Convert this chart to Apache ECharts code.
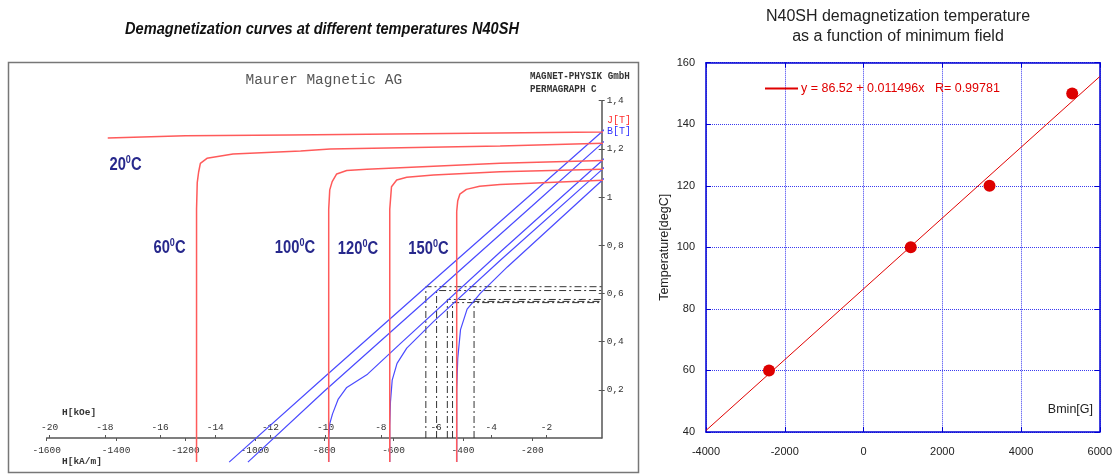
<!DOCTYPE html>
<html>
<head>
<meta charset="utf-8">
<title>N40SH demagnetization</title>
<script src="https://cdn.jsdelivr.net/npm/echarts@6.0.0/dist/echarts.min.js"></script>
<style>
  html, body { margin: 0; padding: 0; background: #fff; }
  #main { width: 1115px; height: 474px; }
</style>
</head>
<body>
<div id="main"></div>
<script>
// ---- left: demagnetization curves (H in kA/m, J and B in T) ----
var tempNames = ['20', '60', '100', '120', '150'];

var j20 = [[-1424, 1.245], [-1200, 1.255], [-900, 1.258], [-600, 1.262], [-300, 1.266], [0, 1.270], [25, 1.272]];
var j60 = [[-1168, -0.1], [-1168, 0.95], [-1166, 1.06], [-1162, 1.104], [-1157, 1.140], [-1138, 1.161], [-1063, 1.179], [-868, 1.191], [-783, 1.200], [-293, 1.212], [47, 1.225]];
var j100 = [[-787, -0.1], [-787, 0.95], [-784, 1.03], [-777, 1.064], [-764, 1.096], [-735, 1.110], [-677, 1.115], [-581, 1.122], [-293, 1.140], [47, 1.154]];
var j120 = [[-611, -0.1], [-611, 0.95], [-606, 1.043], [-591, 1.071], [-562, 1.082], [-485, 1.092], [-293, 1.105], [47, 1.117]];
var j150 = [[-418, -0.1], [-418, 0.94], [-415, 0.985], [-409, 1.012], [-390, 1.032], [-352, 1.045], [-293, 1.052], [47, 1.072]];

var b20 = [[-1074, -0.1], [-800, 0.252], [-500, 0.635], [-200, 1.016], [0, 1.270], [45, 1.330]];
var b60 = [[-1020, -0.1], [-800, 0.194], [-500, 0.579], [-200, 0.964], [0, 1.222], [45, 1.281]];
var b100 = [[-787, -0.1], [-787, 0.0], [-784, 0.06], [-776, 0.1], [-760, 0.16], [-735, 0.21], [-675, 0.265], [-579, 0.394], [-291, 0.774], [0, 1.150], [47, 1.213]];
var b120 = [[-611, -0.1], [-611, 0.05], [-609, 0.15], [-604, 0.24], [-590, 0.31], [-562, 0.373], [-485, 0.483], [-293, 0.737], [0, 1.113], [47, 1.177]];
var b150 = [[-418, -0.1], [-418, 0.2], [-415, 0.33], [-407, 0.45], [-388, 0.535], [-350, 0.6], [-272, 0.71], [0, 1.068], [47, 1.131]];

// working points marked with dash-dot lines
var bminH = [-507, -476, -445, -430, -368];
var bminB = [0.628, 0.612, 0.575, 0.562, 0.567];

var hTicks = [-1600, -1400, -1200, -1000, -800, -600, -400, -200];
var kOeTicks = [-20, -18, -16, -14, -12, -10, -8, -6, -4, -2];
var bTicks = [0.2, 0.4, 0.6, 0.8, 1, 1.2, 1.4];
var KA_PER_KOE = 79.5775;

// ---- right: demagnetization temperature vs minimum field ----
var bminG = [-2400, 1200, 3200, 5300];
var tempC = [60, 100, 120, 150];
var fitX = [-4000, 6000];
var fitY = [40.5, 155.5];
var fitName = 'y = 86.52 + 0.011496x   R= 0.99781';

var MONO = '"Liberation Mono", "DejaVu Sans Mono", monospace';
var SANS = '"Liberation Sans", Arial, sans-serif';
var RED = '#ff5a5a', BLUE = '#4a4aff';
var GB = '#0000d4';

var jCurves = [j20, j60, j100, j120, j150];
var bCurves = [b20, b60, b100, b120, b150];

function plain(v) { return String(v); }

var series = [];
bCurves.forEach(function (d, i) {
  series.push({
    name: 'B ' + tempNames[i], type: 'line', data: d, xAxisIndex: 0, yAxisIndex: 0,
    symbol: 'none', clip: false, z: 3,
    lineStyle: { color: BLUE, width: 1.2 }
  });
});
jCurves.forEach(function (d, i) {
  series.push({
    name: 'J ' + tempNames[i], type: 'line', data: d, xAxisIndex: 0, yAxisIndex: 0,
    symbol: 'none', clip: false, z: 4,
    lineStyle: { color: RED, width: 1.5 }
  });
});
bminH.forEach(function (h, i) {
  series.push({
    name: 'Bmin ' + tempNames[i], type: 'line', xAxisIndex: 0, yAxisIndex: 0,
    data: [[h, 0], [h, bminB[i]], [0, bminB[i]]],
    symbol: 'none', clip: false, z: 2,
    lineStyle: { color: '#333', width: 1, type: [7, 3, 2, 3] }
  });
});
series.push({
  name: 'points', type: 'scatter', xAxisIndex: 2, yAxisIndex: 2,
  data: bminG.map(function (g, i) { return [g, tempC[i]]; }),
  symbolSize: 12, itemStyle: { color: '#dd0000', opacity: 1 }, z: 5
});
series.push({
  name: fitName, type: 'line', xAxisIndex: 2, yAxisIndex: 2,
  data: fitX.map(function (x, i) { return [x, fitY[i]]; }),
  symbol: 'none', itemStyle: { color: '#e00000' },
  lineStyle: { color: '#e00000', width: 1 }, z: 4
});

function tempLabel(t, cx, cy) {
  return {
    type: 'group', x: cx, y: cy, scaleX: 0.82,
    children: [{
      type: 'text',
      style: {
        text: '{a|' + t + '}{s|0}{a|C}',
        textAlign: 'center', textVerticalAlign: 'middle',
        rich: {
          a: { fontSize: 18, fontWeight: 'bold', fontFamily: SANS, fill: '#27288c', lineHeight: 20, verticalAlign: 'bottom' },
          s: { fontSize: 11, fontWeight: 'bold', fontFamily: SANS, fill: '#27288c', lineHeight: 20, verticalAlign: 'top' }
        }
      }
    }]
  };
}

function monoText(txt, x, y, size, color, weight, sx) {
  return {
    type: 'group', x: x, y: y, scaleX: sx || 1,
    children: [{
      type: 'text',
      style: {
        text: txt, fontFamily: MONO, fontSize: size, fontWeight: weight || 'normal',
        fill: color, textAlign: 'left', textVerticalAlign: 'middle'
      }
    }]
  };
}

var chart = echarts.init(document.getElementById('main'), null, { renderer: 'canvas' });

chart.setOption({
  animation: false,
  backgroundColor: '#fff',
  legend: {
    data: [fitName], left: 764, top: 82, padding: 0, itemWidth: 33, itemHeight: 14, itemGap: 5,
    itemStyle: { opacity: 0 },
    textStyle: { color: '#e00000', fontSize: 12.5, fontFamily: SANS, padding: [0, 0, 0, -2] }
  },
  grid: [
    { left: 46.7, right: 513.3, top: 100.7, bottom: 36 },
    { left: 706, right: 13, top: 62.7, bottom: 42 }
  ],
  xAxis: [
    {
      gridIndex: 0, type: 'value', min: -1600, max: 0, position: 'bottom',
      axisLine: { onZero: false, lineStyle: { color: '#555', width: 1.5 } },
      axisTick: { length: 3, lineStyle: { color: '#555' }, customValues: hTicks },
      axisLabel: { customValues: hTicks, formatter: plain, margin: 7, fontFamily: MONO, fontSize: 9.5, color: '#333' },
      splitLine: { show: false }
    },
    {
      gridIndex: 0, type: 'value', min: -1600 / KA_PER_KOE, max: 0, position: 'bottom',
      axisLine: { show: false, onZero: false },
      axisTick: { inside: true, length: 3, lineStyle: { color: '#555' }, customValues: kOeTicks },
      axisLabel: { inside: true, customValues: kOeTicks, formatter: plain, margin: 6, fontFamily: MONO, fontSize: 9.5, color: '#333' },
      splitLine: { show: false }
    },
    {
      gridIndex: 1, type: 'value', min: -4000, max: 6000, interval: 2000, position: 'bottom',
      axisLine: { onZero: false, lineStyle: { color: GB, width: 1.5 } },
      axisTick: { inside: true, length: 5, lineStyle: { color: GB } },
      axisLabel: { margin: 14, formatter: plain, fontFamily: SANS, fontSize: 11, color: '#222' },
      splitLine: { show: true, lineStyle: { color: '#3a3af0', type: 'dotted', width: 1 } }
    },
    {
      gridIndex: 1, type: 'value', min: -4000, max: 6000, interval: 2000, position: 'top',
      axisLine: { onZero: false, lineStyle: { color: GB, width: 1.5 } },
      axisTick: { inside: true, length: 5, lineStyle: { color: GB } },
      axisLabel: { show: false }, splitLine: { show: false }
    }
  ],
  yAxis: [
    {
      gridIndex: 0, type: 'value', min: 0, max: 1.4, position: 'right',
      axisLine: { show: true, onZero: false, lineStyle: { color: '#555', width: 1.5 } },
      axisTick: { show: true, length: 3, lineStyle: { color: '#555' }, customValues: bTicks },
      axisLabel: {
        customValues: bTicks, margin: 5, fontFamily: MONO, fontSize: 9.5, color: '#333',
        formatter: function (v) { return String(v).replace('.', ','); }
      },
      splitLine: { show: false }
    },
    {
      gridIndex: 0, type: 'value', min: 0, max: 1.4, position: 'right',
      axisLine: { show: false, onZero: false },
      axisTick: { show: true, inside: true, length: 3, lineStyle: { color: '#555' }, customValues: bTicks },
      axisLabel: { show: false }, splitLine: { show: false }
    },
    {
      gridIndex: 1, type: 'value', min: 40, max: 160, interval: 20, position: 'left',
      name: 'Temperature[degC]', nameLocation: 'middle', nameGap: 35,
      nameTextStyle: { fontFamily: SANS, fontSize: 12.5, color: '#222' },
      axisLine: { show: true, onZero: false, lineStyle: { color: GB, width: 1.5 } },
      axisTick: { show: true, inside: true, length: 5, lineStyle: { color: GB } },
      axisLabel: { margin: 11, formatter: plain, fontFamily: SANS, fontSize: 11, color: '#222' },
      splitLine: { show: true, lineStyle: { color: '#3a3af0', type: 'dotted', width: 1 } }
    },
    {
      gridIndex: 1, type: 'value', min: 40, max: 160, interval: 20, position: 'right',
      axisLine: { show: true, onZero: false, lineStyle: { color: GB, width: 1.5 } },
      axisTick: { show: true, inside: true, length: 5, lineStyle: { color: GB } },
      axisLabel: { show: false }, splitLine: { show: false }
    }
  ],
  graphic: [
    {
      type: 'rect', shape: { x: 8.5, y: 62.5, width: 630, height: 410 },
      style: { fill: 'none', stroke: '#777', lineWidth: 1.5 }, z: -1
    },
    {
      type: 'group', x: 322, y: 30, scaleX: 0.91,
      children: [{
        type: 'text',
        style: {
          text: 'Demagnetization curves at different temperatures N40SH',
          fontFamily: SANS, fontSize: 16, fontWeight: 'bold', fontStyle: 'italic',
          fill: '#111', textAlign: 'center', textVerticalAlign: 'middle'
        }
      }]
    },
    monoText('Maurer Magnetic AG', 245.5, 80, 14.5, '#555'),
    monoText('MAGNET-PHYSIK GmbH', 530, 76, 11, '#333', 'bold', 0.84),
    monoText('PERMAGRAPH C', 530, 89, 11, '#333', 'bold', 0.84),
    monoText('J[T]', 607, 120, 10, '#ff3030'),
    monoText('B[T]', 607, 131, 10, '#3030ff'),
    monoText('H[kOe]', 62, 413, 9.5, '#333', 'bold'),
    monoText('H[kA/m]', 62, 461.5, 9.5, '#333', 'bold'),
    tempLabel('20', 125.5, 164),
    tempLabel('60', 169.5, 247),
    tempLabel('100', 295, 247),
    tempLabel('120', 358, 248),
    tempLabel('150', 428.5, 248),
    {
      type: 'text', x: 898, y: 17,
      style: {
        text: 'N40SH demagnetization temperature', fontFamily: SANS, fontSize: 16,
        fill: '#222', textAlign: 'center', textVerticalAlign: 'middle'
      }
    },
    {
      type: 'text', x: 898, y: 37,
      style: {
        text: 'as a function of minimum field', fontFamily: SANS, fontSize: 16,
        fill: '#222', textAlign: 'center', textVerticalAlign: 'middle'
      }
    },
    {
      type: 'text', x: 1093, y: 410,
      style: {
        text: 'Bmin[G]', fontFamily: SANS, fontSize: 12.5,
        fill: '#222', textAlign: 'right', textVerticalAlign: 'middle'
      }
    }
  ],
  series: series
});
</script>
</body>
</html>
